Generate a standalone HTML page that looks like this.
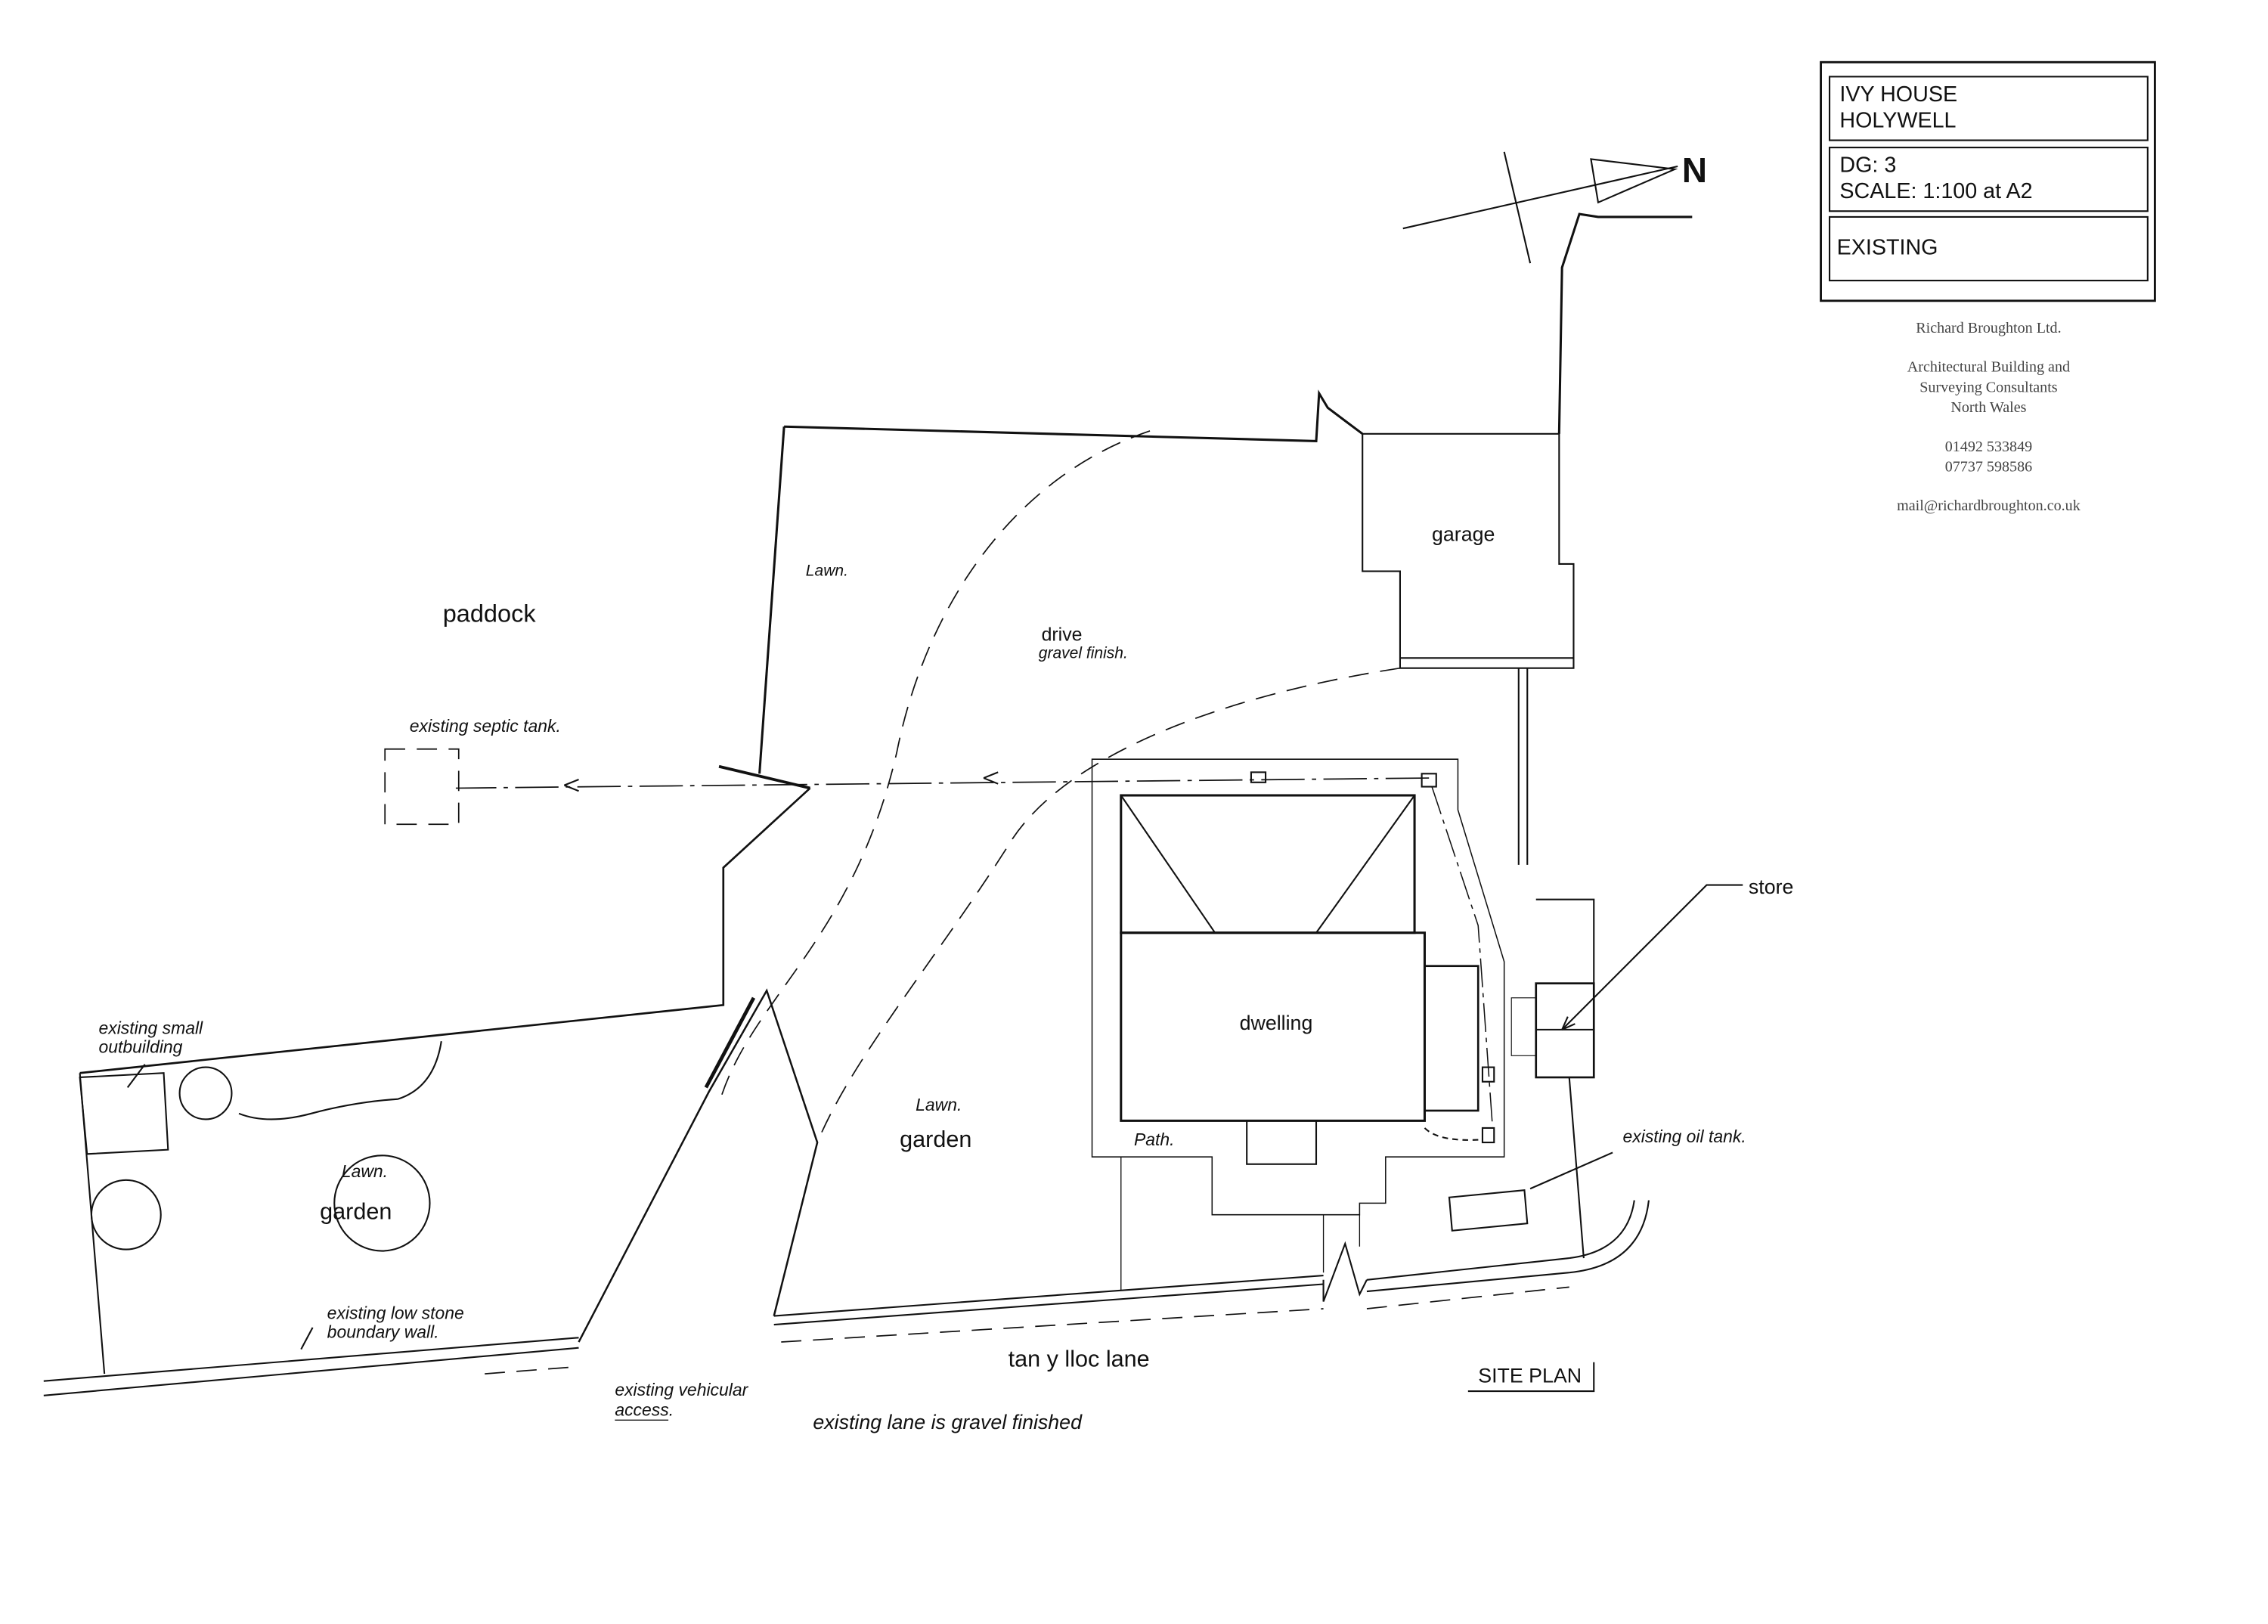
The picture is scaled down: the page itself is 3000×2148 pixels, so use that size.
<!DOCTYPE html>
<html><head><meta charset="utf-8"><style>
html,body{margin:0;padding:0;background:#fff;}
svg{display:block}
.h{font-family:"Liberation Sans",sans-serif;font-style:italic;fill:#111}
.s{font-family:"Liberation Sans",sans-serif;fill:#111}
.r{font-family:"Liberation Serif",serif;fill:#444;font-size:10.5px;text-anchor:middle}
</style></head><body>
<svg width="3000" height="2148" viewBox="0 0 1568 1123" xmlns="http://www.w3.org/2000/svg">
<rect width="1568" height="1123" fill="#fff"/>
<g fill="none" stroke="#111" stroke-width="1.1">
<rect x="1259" y="43" width="231" height="165" stroke-width="1.5"/>
<rect x="1265" y="53" width="220" height="44"/>
<rect x="1265" y="102" width="220" height="44"/>
<rect x="1265" y="150" width="220" height="44"/>
<line x1="970" y1="158" x2="1160" y2="115"/>
<polygon points="1100,110 1158,117 1105,140"/>
<line x1="1040" y1="105" x2="1058" y2="182"/>
<polyline points="1170,150 1105,150 1092,148 1080,185 1078,300" stroke-width="1.6"/>
<polygon points="942,300 1078,300 1078,390 1088,390 1088,462 968,462 968,395 942,395"/>
<line x1="968" y1="455" x2="1088" y2="455"/>
<line x1="1050" y1="462" x2="1050" y2="598"/><line x1="1056" y1="462" x2="1056" y2="598"/>
<polyline points="542,295 910,305 912,272 918,282 942,300" stroke-width="1.6"/>
<polyline points="542,295 525,535" stroke-width="1.6"/>
<line x1="497" y1="530" x2="560" y2="545" stroke-width="2"/>
<polyline points="560,545 500,600 500,695 55,742" stroke-width="1.4"/>
<line x1="55" y1="742" x2="72" y2="950"/>
<line x1="30" y1="955" x2="400" y2="925"/><line x1="30" y1="965" x2="400" y2="932"/>
<polyline points="400,928 490,755 530,685 565,790 535,910" stroke-width="1.3"/>
<line x1="488" y1="752" x2="521" y2="690" stroke-width="2.5"/>
<line x1="535" y1="910" x2="915" y2="882"/><line x1="535" y1="916" x2="915" y2="888"/>
<polyline points="915,885 915,900 930,860 940,895 945,885"/>
<line x1="945" y1="885" x2="1085" y2="870"/><line x1="945" y1="893" x2="1085" y2="880"/>
<path d="M1085,870 Q1125,865 1130,830 M1085,880 Q1135,875 1140,830"/>
<line x1="1085" y1="745" x2="1095" y2="870"/>
<g stroke-dasharray="14,8" stroke-width="0.9">
<path d="M795,298 C700,330 640,420 620,520 C590,650 520,690 498,760"/>
<path d="M968,462 C850,480 740,520 700,580 C650,660 590,730 565,790"/>
<path d="M335,950 L400,945"/>
<path d="M540,928 L915,905 M945,905 L1085,890"/>
<rect x="266" y="518" width="51" height="52"/>
</g>
<polyline points="988,538 315,545" stroke-dasharray="30,5,3,5" stroke-width="0.9"/>
<path d="M680,538 l10,-4 M680,538 l10,4 M390,543 l10,-4 M390,543 l10,4"/>
<rect x="865" y="534" width="10" height="7"/>
<rect x="983" y="535" width="10" height="9"/>
<polyline points="990,544 1022,640 1032,780" stroke-dasharray="20,4,3,4" stroke-width="0.8"/>
<path d="M985,780 q10,10 40,8" stroke-dasharray="4,3"/>
<rect x="1025" y="738" width="8" height="10"/><rect x="1025" y="780" width="8" height="10"/>
<polygon points="755,525 1008,525 1008,560 1040,665 1040,800 958,800 958,832 940,832 940,840 838,840 838,800 755,800" stroke-width="0.8"/>
<line x1="775" y1="800" x2="775" y2="892" stroke-width="0.7"/>
<line x1="915" y1="840" x2="915" y2="880" stroke-width="0.7"/>
<line x1="940" y1="840" x2="940" y2="862" stroke-width="0.7"/>
<rect x="775" y="550" width="203" height="95" stroke-width="1.6"/>
<path d="M775,550 L840,645 M978,550 L910,645"/>
<rect x="775" y="645" width="210" height="130" stroke-width="1.6"/>
<rect x="985" y="668" width="37" height="100" stroke-width="1.4"/>
<rect x="862" y="775" width="48" height="30"/>
<rect x="1062" y="680" width="40" height="65" stroke-width="1.4"/>
<line x1="1062" y1="712" x2="1102" y2="712"/>
<polyline points="1062,622 1102,622 1102,680"/>
<rect x="1045" y="690" width="17" height="40" stroke-width="0.6"/>
<polyline points="1205,612 1180,612 1080,712"/>
<path d="M1080,712 l4,-9 M1080,712 l9,-4"/>
<polygon points="1002,828 1054,823 1056,846 1004,851"/>
<line x1="1058" y1="822" x2="1115" y2="797"/>
<polygon points="55,745 113,742 116,795 60,798"/>
<line x1="88" y1="752" x2="100" y2="736"/>
<circle cx="142" cy="756" r="18"/><circle cx="87" cy="840" r="24"/><circle cx="264" cy="832" r="33"/>
<path d="M165,770 q20,8 50,0 q30,-8 60,-10 q25,-8 30,-40" />
<line x1="208" y1="933" x2="216" y2="918"/>
<polyline points="1015,962 1102,962 1102,942"/>
<line x1="425" y1="982" x2="462" y2="982" stroke-width="0.7"/>
</g>
<g class="s" font-size="15">
<text x="1272" y="70">IVY HOUSE</text><text x="1272" y="88">HOLYWELL</text>
<text x="1272" y="119">DG: 3</text><text x="1272" y="137">SCALE: 1:100 at A2</text>
<text x="1270" y="176">EXISTING</text>
<text x="990" y="374" font-size="14">garage</text>
<text x="857" y="712" font-size="14">dwelling</text>
<text x="1209" y="618" font-size="14">store</text>
<text x="1022" y="956" font-size="14">SITE PLAN</text>
<text x="720" y="443" font-size="13">drive</text>
</g>
<text class="s" x="1163" y="126" font-family="Liberation Serif" font-weight="bold" font-size="24">N</text>
<g>
<text class="r" x="1375" y="230">Richard Broughton Ltd.</text>
<text class="r" x="1375" y="257">Architectural Building and</text>
<text class="r" x="1375" y="271">Surveying Consultants</text>
<text class="r" x="1375" y="285">North Wales</text>
<text class="r" x="1375" y="312">01492 533849</text>
<text class="r" x="1375" y="326">07737 598586</text>
<text class="r" x="1375" y="353">mail@richardbroughton.co.uk</text>
</g>
<g class="h">
<text x="306" y="430" font-size="17" font-style="normal">paddock</text>
<text x="557" y="398" font-size="11">Lawn.</text>
<text x="718" y="455" font-size="11">gravel finish.</text>
<text x="283" y="506" font-size="12">existing septic tank.</text>
<text x="622" y="793" font-size="16" font-style="normal">garden</text>
<text x="633" y="768" font-size="12">Lawn.</text>
<text x="784" y="792" font-size="12">Path.</text>
<text x="221" y="843" font-size="16" font-style="normal">garden</text>
<text x="236" y="814" font-size="12">Lawn.</text>
<text x="68" y="715" font-size="12">existing small</text>
<text x="68" y="728" font-size="12">outbuilding</text>
<text x="1122" y="790" font-size="12">existing oil tank.</text>
<text x="226" y="912" font-size="12">existing low stone</text>
<text x="226" y="925" font-size="12">boundary wall.</text>
<text x="697" y="945" font-size="16" font-style="normal">tan y lloc lane</text>
<text x="425" y="965" font-size="12">existing vehicular</text>
<text x="425" y="979" font-size="12">access.</text>
<text x="562" y="988" font-size="14">existing lane is gravel finished</text>
</g>
</svg>
</body></html>
